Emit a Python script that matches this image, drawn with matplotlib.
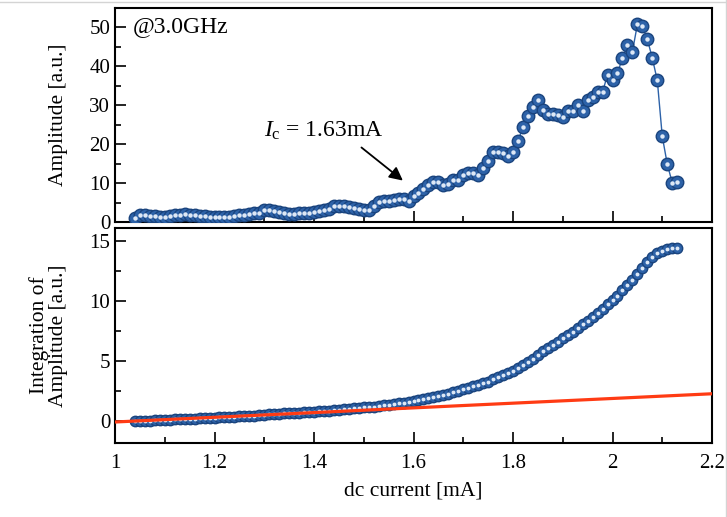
import matplotlib.pyplot as plt
from matplotlib.ticker import MultipleLocator
from matplotlib.lines import Line2D

plt.rcParams['font.family'] = ['Liberation Serif', 'DejaVu Serif']
plt.rcParams['mathtext.fontset'] = 'custom'
plt.rcParams['mathtext.rm'] = 'Liberation Serif'
plt.rcParams['mathtext.it'] = 'Liberation Serif:italic'

# dc current [mA], one point every 0.01 mA from 1.04 to 2.13
current = [round(1.04 + 0.01 * i, 2) for i in range(110)]

amplitude = [
    1.0, 1.9, 1.8, 1.6, 1.5, 1.3, 1.4, 1.6, 1.8, 1.9,
    2.1, 1.9, 1.7, 1.6, 1.5, 1.4, 1.4, 1.3, 1.3, 1.4,
    1.5, 1.7, 1.8, 2.0, 2.2, 2.4, 3.0, 3.0, 2.8, 2.6,
    2.3, 2.0, 2.1, 2.2, 2.3, 2.3, 2.5, 2.8, 3.0, 3.4,
    4.0, 4.2, 4.1, 3.9, 3.7, 3.3, 3.05, 3.1, 4.15, 5.2,
    5.4, 5.4, 5.7, 6.0, 5.85, 5.4, 6.7, 7.5, 8.4, 9.4,
    10.3, 10.3, 9.4, 9.7, 10.9, 10.9, 12.2, 12.6, 12.5, 12.2,
    13.9, 15.6, 18.1, 18.1, 17.7, 16.9, 18.1, 20.7, 24.5, 27.2,
    29.6, 31.3, 28.8, 27.7, 27.7, 27.5, 26.9, 28.5, 28.5, 30.2,
    28.5, 31.3, 32.0, 33.3, 33.4, 37.9, 36.4, 38.3, 42.1, 45.5,
    43.8, 50.8, 50.3, 47.0, 42.1, 36.4, 22.0, 14.9, 10.1, 10.4,
]

integration = [
    0.00, 0.02, 0.04, 0.06, 0.08, 0.10, 0.12, 0.14, 0.16, 0.18,
    0.20, 0.22, 0.24, 0.26, 0.28, 0.30, 0.32, 0.34, 0.36, 0.38,
    0.40, 0.42, 0.44, 0.46, 0.49, 0.52, 0.55, 0.58, 0.61, 0.64,
    0.67, 0.69, 0.71, 0.73, 0.75, 0.78, 0.81, 0.84, 0.87, 0.90,
    0.94, 0.98, 1.02, 1.06, 1.10, 1.13, 1.16, 1.19, 1.23, 1.28,
    1.33, 1.38, 1.44, 1.50, 1.56, 1.61, 1.67, 1.75, 1.83, 1.92,
    2.02, 2.12, 2.22, 2.32, 2.43, 2.54, 2.66, 2.79, 2.91, 3.03,
    3.17, 3.32, 3.50, 3.68, 3.86, 4.03, 4.21, 4.42, 4.66, 4.93,
    5.22, 5.53, 5.82, 6.10, 6.37, 6.65, 6.92, 7.20, 7.48, 7.78,
    8.07, 8.38, 8.70, 9.03, 9.37, 9.74, 10.10, 10.48, 10.90, 11.35,
    11.79, 12.30, 12.80, 13.27, 13.69, 14.00, 14.20, 14.32, 14.40, 14.45,
]

# linear fit below threshold
fit_x = [1.0, 2.2]
fit_y = [-0.05, 2.3]

blue = '#2d62a8'
edge = '#1a447e'
light = '#dde8f6'

fig = plt.figure(figsize=(7.27, 5.17), dpi=100)
ax1 = fig.add_axes([0.1582, 0.5706, 0.8212, 0.4139])
ax2 = fig.add_axes([0.1582, 0.1431, 0.8212, 0.4159])

ax1.plot(current, amplitude, '-', color=blue, lw=1, zorder=2)
ax1.plot(current, amplitude, 'o', ms=9, mfc=blue, mec=edge, mew=1, zorder=3)
ax1.plot(current, amplitude, 'o', ms=3.2, mfc=light, mec='none', zorder=4)

ax2.plot(current, integration, 'o', ms=7.5, mfc=blue, mec=edge, mew=1, zorder=3)
ax2.plot(current, integration, 'o', ms=2.8, mfc=light, mec='none', zorder=4)
ax2.plot(fit_x, fit_y, '-', color='#ff3b14', lw=2.3, zorder=5)

for ax in (ax1, ax2):
    ax.set_xlim(1.0, 2.2)
    ax.xaxis.set_major_locator(MultipleLocator(0.2))
    ax.xaxis.set_minor_locator(MultipleLocator(0.1))
    ax.tick_params(which='both', direction='in', top=False, right=False,
                   labelsize=15, width=1.2)
    ax.tick_params(which='major', length=8)
    ax.tick_params(which='minor', length=4)
    for s in ax.spines.values():
        s.set_linewidth(1.5)

ax1.set_ylim(0, 55)
ax1.yaxis.set_major_locator(MultipleLocator(10))
ax1.yaxis.set_minor_locator(MultipleLocator(5))
ax1.tick_params(axis='x', labelbottom=False)
ax1.set_ylabel('Amplitude [a.u.]', fontsize=15.5, labelpad=15)
ax1.text(0.03, 0.915, '@3.0GHz', transform=ax1.transAxes, fontsize=17,
         ha='left', va='center')
ax1.annotate('', xy=(1.583, 10.2), xytext=(1.491, 19.6),
             arrowprops=dict(arrowstyle='-|>', color='black', lw=1.3,
                             mutation_scale=20))
ax1.text(1.30, 23.5, r'$I_{\mathrm{c}}$ = 1.63mA', fontsize=17,
         ha='left', va='center')

ax2.set_ylim(-1.8, 16.1)
ax2.yaxis.set_major_locator(MultipleLocator(5))
ax2.yaxis.set_minor_locator(MultipleLocator(2.5))
ax2.set_xticks([1.0, 1.2, 1.4, 1.6, 1.8, 2.0, 2.2])
ax2.set_xticklabels(['1', '1.2', '1.4', '1.6', '1.8', '2', '2.2'])
ax2.tick_params(axis='x', pad=8)
ax2.set_ylabel('Integration of\nAmplitude [a.u.]', fontsize=15.5, labelpad=15,
               linespacing=1.0)
ax2.set_xlabel('dc current [mA]', fontsize=15.5, labelpad=6)

# thin grey page border
fig.add_artist(Line2D([0, 1], [0.996, 0.996], color='#d4d4d4', lw=1))
fig.add_artist(Line2D([0.998, 0.998], [0, 1], color='#d4d4d4', lw=1))

fig.savefig('out.png', dpi=100)
